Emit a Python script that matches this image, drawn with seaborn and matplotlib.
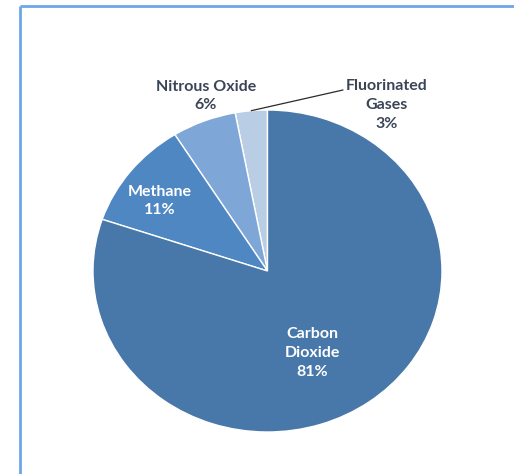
import numpy as np
import matplotlib
matplotlib.use("Agg")
import matplotlib.pyplot as plt
from matplotlib.lines import Line2D
import seaborn as sns

# Greenhouse gas shares (percent), drawn counter-clockwise from 12 o'clock
gases = ["Fluorinated\nGases", "Nitrous Oxide", "Methane", "Carbon\nDioxide"]
shares = [3, 6, 11, 81]
colors = ["#b9cde5", "#7ea7d8", "#4f87c3", "#4878a9"]

sns.set_theme(style="white")
plt.rcParams["font.family"] = ["Lato", "DejaVu Sans"]

W, H = 514, 474
fig = plt.figure(figsize=(W / 100, H / 100), dpi=100)

def fx(px):
    return px / W

def fy(py):
    return 1 - py / H

# pie axes: slightly wider than tall
left, right, top, bottom = 93, 442, 110, 432
ax = fig.add_axes([fx(left), fy(bottom), (right - left) / W, (bottom - top) / H])
wedges, _ = ax.pie(shares, colors=colors, startangle=90, counterclock=True,
                   radius=1.0, wedgeprops=dict(edgecolor="white", linewidth=1.0))
ax.set_xlim(-1, 1)
ax.set_ylim(-1, 1)
ax.set_aspect("auto")
ax.axis("off")

dark = "#3b4557"
fs = 11.5
lab = dict(ha="center", va="center", fontsize=fs, fontweight="bold", linespacing=1.45)

fig.text(fx(206), fy(96), f"{gases[1]}\n{shares[1]}%", color=dark, **lab)
fig.text(fx(387), fy(105), f"{gases[0]}\n{shares[0]}%", color=dark, **lab)
fig.text(fx(160), fy(201), f"{gases[2]}\n{shares[2]}%", color="white", **lab)
fig.text(fx(312), fy(353), f"{gases[3]}\n{shares[3]}%", color="white", **lab)

# leader line from the fluorinated wedge to its label
w = wedges[0]
mid = np.deg2rad((w.theta1 + w.theta2) / 2)
ax.annotate("", xy=(np.cos(mid), np.sin(mid)), xycoords="data",
            xytext=(fx(343), fy(90)), textcoords="figure fraction",
            arrowprops=dict(arrowstyle="-", color="#2b2b2b", lw=0.9,
                            shrinkA=0, shrinkB=0))

# chart frame: top and left edges
frame = dict(transform=fig.transFigure, color="#6fa6e6", linewidth=2.0,
             solid_capstyle="butt")
fig.lines.append(Line2D([fx(20), fx(514)], [fy(6), fy(6)], **frame))
fig.lines.append(Line2D([fx(20), fx(20)], [fy(6), fy(474)], **frame))

fig.patch.set_edgecolor("white")
fig.patch.set_linewidth(0)
fig.savefig("out.png", dpi=100, facecolor="white", edgecolor="white")
